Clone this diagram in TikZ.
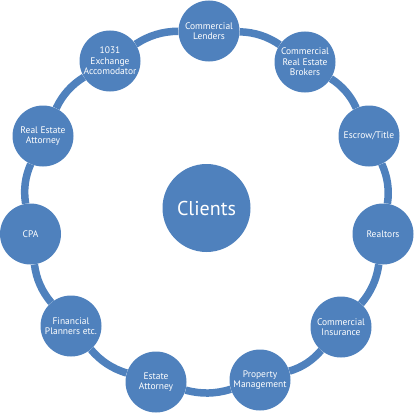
\documentclass[tikz,border=0pt]{standalone}
\usepackage{fontspec}
\setmainfont{PT Sans}
\definecolor{ringblue}{HTML}{4F81BD}
\begin{document}
\begin{tikzpicture}[x=1pt,y=-1pt,
  member/.style={circle,fill=ringblue,draw=none,minimum size=61pt,inner sep=0pt,
    text=white,align=center,font=\fontsize{9.5}{10.5}\selectfont},
  hub/.style={circle,fill=ringblue,draw=none,minimum size=88pt,inner sep=0pt,
    text=white,font=\fontsize{20}{24}\selectfont},
  link/.style={draw=ringblue,line width=7.5pt,bend left=16.4,looseness=0.9}]
\useasboundingbox (0,0) rectangle (414,412);
\coordinate (pL) at (209,31);
\coordinate (pB) at (305,62);
\coordinate (pE) at (369,136);
\coordinate (pR) at (383,234);
\coordinate (pI) at (341,327);
\coordinate (pP) at (260,380);
\coordinate (pA) at (156,382);
\coordinate (pF) at (71,326);
\coordinate (pC) at (30.5,234);
\coordinate (pT) at (43,136);
\coordinate (pX) at (110,61);
\node[hub] (clients) at (206.5,208) {Clients};
\node[member] (lenders) at (pL) {Commercial\\Lenders};
\node[member] (brokers) at (pB) {Commercial\\Real Estate\\Brokers};
\node[member] (escrow) at (pE) {Escrow/Title};
\node[member] (realtors) at (pR) {Realtors};
\node[member] (insurance) at (pI) {Commercial\\Insurance};
\node[member] (property) at (pP) {Property\\Management};
\node[member] (estate) at (pA) {Estate\\Attorney};
\node[member] (financial) at (pF) {Financial\\Planners etc.};
\node[member] (cpa) at (pC) {CPA};
\node[member] (reattorney) at (pT) {Real Estate\\Attorney};
\node[member] (exchange) at (pX) {1031\\Exchange\\Accomodator};
\path[link] (lenders) to (brokers);
\path[link] (brokers) to (escrow);
\path[link] (escrow) to (realtors);
\path[link] (realtors) to (insurance);
\path[link] (insurance) to (property);
\path[link] (property) to (estate);
\path[link] (estate) to (financial);
\path[link] (financial) to (cpa);
\path[link] (cpa) to (reattorney);
\path[link] (reattorney) to (exchange);
\path[link] (exchange) to (lenders);
\end{tikzpicture}
\end{document}
